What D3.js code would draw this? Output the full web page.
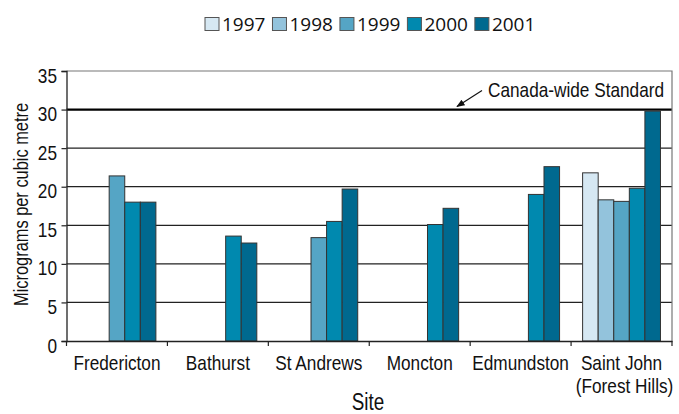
<!DOCTYPE html>
<html>
<head>
<meta charset="utf-8">
<script src="https://cdn.jsdelivr.net/npm/d3@7"></script>
<style>
  body { margin: 0; background: #fff; }
  svg text { font-family: "Liberation Sans", Arial, sans-serif; fill: #111; }
  .legend text { font-family: "Open Sans", "Noto Sans", sans-serif; }
</style>
</head>
<body>
<svg id="chart" width="679" height="414"></svg>
<script>
// sites and years
const sites = ["Fredericton", "Bathurst", "St Andrews", "Moncton", "Edmundston", "Saint John|(Forest Hills)"];
const years = ["1997", "1998", "1999", "2000", "2001"];
const colors = ["#d6e8f3", "#93c3dc", "#55a5c5", "#0089af", "#00698f"];

// values per year, one per site (null = no data)
const v1997 = [null, null, null, null, null, 21.8];
const v1998 = [null, null, null, null, null, 18.3];
const v1999 = [21.4, null, 13.4, null, null, 18.1];
const v2000 = [18.0, 13.6, 15.5, 15.1, 19.0, 19.8];
const v2001 = [18.0, 12.7, 19.7, 17.2, 22.6, 29.8];
const seriesValues = [v1997, v1998, v1999, v2000, v2001];

const yTicks = [0, 5, 10, 15, 20, 25, 30, 35];
const standard = 30;
const standardLabel = "Canada-wide Standard";

const svg = d3.select("#chart");
const margin = { left: 66.5, right: 7, top: 71, bottom: 73 };
const W = 679, H = 414;
const NARROW = 0.82; // no narrow font installed, squeeze Liberation Sans instead

// condensed-looking text
function ntext(g, x, y, str, size, anchor, rot) {
  return g.append("text")
    .attr("transform", `translate(${x},${y})${rot ? ` rotate(${rot})` : ""} scale(${NARROW},1)`)
    .attr("text-anchor", anchor || "start")
    .attr("font-size", size)
    .text(str);
}

const x0 = d3.scaleBand().domain(sites).range([margin.left, W - margin.right]).padding(0);
const x1 = d3.scaleBand().domain(years).range([0, x0.bandwidth()]).paddingInner(0).paddingOuter(0.74);
const y = d3.scaleLinear().domain([0, 35]).range([H - margin.bottom, margin.top]);

// grid lines
svg.append("g")
  .selectAll("line")
  .data(yTicks.filter(t => t > 0 && t < 35))
  .join("line")
  .attr("x1", margin.left).attr("x2", W - margin.right)
  .attr("y1", d => y(d)).attr("y2", d => y(d))
  .attr("stroke", d => d === standard ? "#000" : "#222")
  .attr("stroke-width", d => d === standard ? 2.2 : 1.2);

// frame top / right (grey)
svg.append("path")
  .attr("d", `M${margin.left},${y(35)}H${W - margin.right}V${y(0)}`)
  .attr("fill", "none").attr("stroke", "#777").attr("stroke-width", 1.2);

// bars
const data = [];
sites.forEach((s, i) => {
  years.forEach((yr, j) => {
    const v = seriesValues[j][i];
    if (v != null) data.push({ site: s, year: yr, value: v, color: colors[j] });
  });
});

svg.append("g")
  .selectAll("rect")
  .data(data)
  .join("rect")
  .attr("x", d => x0(d.site) + x1(d.year))
  .attr("width", x1.bandwidth())
  .attr("y", d => y(d.value))
  .attr("height", d => y(0) - y(d.value))
  .attr("fill", d => d.color)
  .attr("stroke", "#333")
  .attr("stroke-width", 1);

// y axis
const yAxis = svg.append("g")
  .attr("transform", `translate(${margin.left},0)`)
  .call(d3.axisLeft(y).tickValues(yTicks).tickSize(5).tickFormat(""));
yAxis.select(".domain").attr("stroke", "#222").attr("stroke-width", 1.3);
yAxis.selectAll(".tick line").attr("stroke", "#222").attr("stroke-width", 1.2);

const yLab = svg.append("g");
yTicks.forEach(t => ntext(yLab, 57, y(t) + 11.5, String(t), 21, "end"));

// x axis
const xAxis = svg.append("g")
  .attr("transform", `translate(0,${y(0)})`)
  .call(d3.axisBottom(x0).tickSize(0).tickFormat(""));
xAxis.select(".domain").attr("stroke", "#222").attr("stroke-width", 1.5);

const bounds = sites.map(s => x0(s)).concat([x0.range()[1]]);
svg.append("g")
  .selectAll("line")
  .data(bounds)
  .join("line")
  .attr("x1", d => d).attr("x2", d => d)
  .attr("y1", y(0)).attr("y2", y(0) + 5)
  .attr("stroke", "#222").attr("stroke-width", 1.2);

// category labels
const catLabels = svg.append("g");
sites.forEach(s => {
  s.split("|").forEach((ln, k) => {
    ntext(catLabels, x0(s) + x0.bandwidth() / 2 + (k === 1 ? 3 : 0), 370 + k * 23, ln, 21, "middle");
  });
});

// axis titles
ntext(svg, 368, 410, "Site", 23, "middle");
ntext(svg, 28, y(17.7), "Micrograms per cubic metre", 20, "middle", -90);

// standard annotation
svg.append("defs").append("marker")
  .attr("id", "arr")
  .attr("viewBox", "0 0 10 10")
  .attr("refX", 9).attr("refY", 5)
  .attr("markerWidth", 7).attr("markerHeight", 7)
  .attr("orient", "auto")
  .append("path").attr("d", "M0,1L10,5L0,9Z").attr("fill", "#111");

svg.append("line")
  .attr("x1", 482).attr("y1", y(standard) - 19)
  .attr("x2", 457).attr("y2", y(standard) - 3)
  .attr("stroke", "#111").attr("stroke-width", 1.2)
  .attr("marker-end", "url(#arr)");

ntext(svg, 488, 97, standardLabel, 21, "start");

// legend
const legend = svg.append("g").attr("class", "legend");
let lx = 205;
years.forEach((yr, j) => {
  legend.append("rect")
    .attr("x", lx).attr("y", 17.5)
    .attr("width", 14).attr("height", 13)
    .attr("fill", colors[j]).attr("stroke", "#555").attr("stroke-width", 1);
  const t = legend.append("text")
    .attr("x", lx + 17).attr("y", 31)
    .attr("font-size", 19)
    .text(yr);
  lx += 17 + t.node().getComputedTextLength() + 7;
});
</script>
</body>
</html>
